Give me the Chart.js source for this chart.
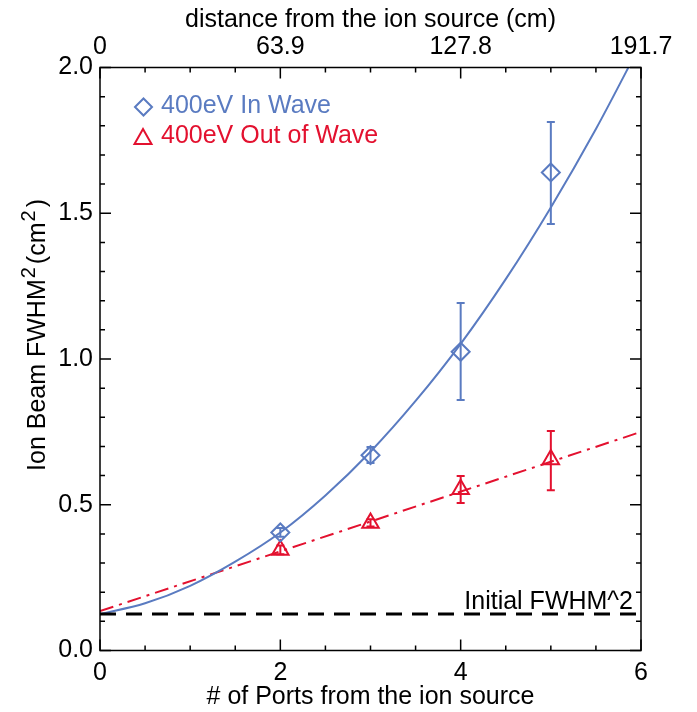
<!DOCTYPE html>
<html>
<head>
<meta charset="utf-8">
<script src="https://cdn.jsdelivr.net/npm/chart.js@4.4.1/dist/chart.umd.min.js"></script>
<style>
  html, body { margin: 0; padding: 0; background: #fff; }
</style>
</head>
<body>
<canvas id="fwhmCanvas" width="697" height="712"></canvas>
<script>
// ---- data ----
const portTicks = [0, 2, 4, 6];
const distanceLabels = ['0', '63.9', '127.8', '191.7'];

const ports = [2, 3, 4, 5];
const inWave = [0.405, 0.670, 1.025, 1.640];
const inWaveLow = [0.390, 0.643, 0.859, 1.463];
const inWaveHigh = [0.420, 0.698, 1.192, 1.813];

const outWave = [0.345, 0.437, 0.553, 0.655];
const outWaveLow = [0.330, 0.425, 0.506, 0.550];
const outWaveHigh = [0.360, 0.450, 0.599, 0.753];

// fitted curves
const fitX = [0, 0.5, 1, 1.5, 2, 2.5, 3, 3.5, 4, 4.5, 5, 5.5, 6];
const inWaveFit = [0.125, 0.162, 0.222, 0.305, 0.405, 0.532, 0.682, 0.856, 1.052, 1.274, 1.520, 1.789, 2.083];
const outFitX = [0, 6];
const outWaveFit = [0.135, 0.750];

const initialX = [0, 6];
const initialFwhm2 = [0.125, 0.125];

const BLUE = '#5a7bc1';
const RED = '#e3112f';
const FONT = '"Liberation Sans", Arial, Helvetica, sans-serif';

Chart.defaults.font.family = FONT;
Chart.defaults.color = '#000';

const pts = (xs, ys) => xs.map((x, i) => ({ x: x, y: ys[i] }));

// inward ticks, frame, error bars, legend, y title and baseline label
const decorations = {
  id: 'decorations',
  afterDatasetsDraw(chart) {
    const { ctx, chartArea: a, scales } = chart;
    const xs = scales.x, ys = scales.y;
    ctx.save();

    // error bars
    ctx.lineWidth = 2;
    const bars = [
      [BLUE, inWaveLow, inWaveHigh],
      [RED, outWaveLow, outWaveHigh]
    ];
    bars.forEach(([col, lo, hi]) => {
      ctx.strokeStyle = col;
      ports.forEach((p, i) => {
        const px = xs.getPixelForValue(p);
        const y1 = ys.getPixelForValue(lo[i]);
        const y2 = ys.getPixelForValue(hi[i]);
        ctx.beginPath();
        ctx.moveTo(px, y1); ctx.lineTo(px, y2);
        ctx.moveTo(px - 4, y1); ctx.lineTo(px + 4, y1);
        ctx.moveTo(px - 4, y2); ctx.lineTo(px + 4, y2);
        ctx.stroke();
      });
    });

    // ticks pointing inward
    ctx.strokeStyle = '#000';
    ctx.lineWidth = 1.5;
    ctx.beginPath();
    for (let k = 0; k <= 12; k++) {
      const px = xs.getPixelForValue(k * 0.5);
      const len = k % 4 === 0 ? 11 : 5;
      ctx.moveTo(px, a.bottom); ctx.lineTo(px, a.bottom - len);
      ctx.moveTo(px, a.top); ctx.lineTo(px, a.top + len);
    }
    for (let k = 0; k <= 20; k++) {
      const py = ys.getPixelForValue(k * 0.1);
      const len = k % 5 === 0 ? 11 : 5;
      ctx.moveTo(a.left, py); ctx.lineTo(a.left + len, py);
      ctx.moveTo(a.right, py); ctx.lineTo(a.right - len, py);
    }
    ctx.stroke();
    ctx.strokeRect(a.left, a.top, a.right - a.left, a.bottom - a.top);

    // baseline label
    ctx.font = '25px ' + FONT;
    ctx.fillStyle = '#000';
    ctx.textAlign = 'right';
    ctx.textBaseline = 'alphabetic';
    ctx.fillText('Initial FWHM^2', 633, ys.getPixelForValue(initialFwhm2[0]) - 5);

    // y axis title with raised 2s
    ctx.save();
    ctx.translate(45, 335);
    ctx.rotate(-Math.PI / 2);
    const parts = [['Ion Beam FWHM', false], ['2', true], ['(cm', false], ['2', true], [')', false]];
    const big = '25px ' + FONT, small = '20px ' + FONT;
    let total = 0;
    parts.forEach(([t, sup]) => { ctx.font = sup ? small : big; total += ctx.measureText(t).width + (sup ? 4 : 0); });
    let cx = -total / 2;
    ctx.textAlign = 'left';
    parts.forEach(([t, sup]) => {
      ctx.font = sup ? small : big;
      ctx.fillText(t, cx + (sup ? 1 : 0), sup ? -10 : 0);
      cx += ctx.measureText(t).width + (sup ? 4 : 0);
    });
    ctx.restore();

    // legend
    ctx.font = '25px ' + FONT;
    ctx.textAlign = 'left';
    ctx.textBaseline = 'middle';
    ctx.lineWidth = 2;
    ctx.strokeStyle = BLUE;
    ctx.fillStyle = BLUE;
    ctx.beginPath();
    ctx.moveTo(135, 107); ctx.lineTo(143.5, 98.5); ctx.lineTo(152, 107); ctx.lineTo(143.5, 115.5);
    ctx.closePath();
    ctx.stroke();
    ctx.fillText('400eV In Wave', 161, 106);

    ctx.strokeStyle = RED;
    ctx.fillStyle = RED;
    ctx.beginPath();
    ctx.moveTo(143, 129); ctx.lineTo(151.5, 144); ctx.lineTo(134.5, 144);
    ctx.closePath();
    ctx.stroke();
    ctx.fillText('400eV Out of Wave', 161, 136);

    ctx.restore();
  }
};

const setPortTicks = scale => { scale.ticks = portTicks.map(v => ({ value: v })); };

new Chart(document.getElementById('fwhmCanvas'), {
  type: 'scatter',
  data: {
    datasets: [
      {
        label: 'Initial FWHM^2',
        data: pts(initialX, initialFwhm2),
        showLine: true,
        borderColor: '#000',
        borderWidth: 3,
        borderDash: [16, 10],
        pointRadius: 0
      },
      {
        label: 'In Wave fit',
        data: pts(fitX, inWaveFit),
        showLine: true,
        borderColor: BLUE,
        borderWidth: 2,
        cubicInterpolationMode: 'monotone',
        pointRadius: 0
      },
      {
        label: 'Out of Wave fit',
        data: pts(outFitX, outWaveFit),
        showLine: true,
        borderColor: RED,
        borderWidth: 2,
        borderDash: [14, 6, 3, 6],
        pointRadius: 0
      },
      {
        label: '400eV In Wave',
        data: pts(ports, inWave),
        pointStyle: 'rectRot',
        pointRadius: 9,
        borderColor: BLUE,
        backgroundColor: 'rgba(0,0,0,0)',
        pointBorderWidth: 2
      },
      {
        label: '400eV Out of Wave',
        data: pts(ports, outWave),
        pointStyle: 'triangle',
        pointRadius: 9.5,
        borderColor: RED,
        backgroundColor: 'rgba(0,0,0,0)',
        pointBorderWidth: 2
      }
    ]
  },
  options: {
    responsive: false,
    animation: false,
    layout: { padding: { left: 0, right: 56, top: 0, bottom: 0 } },
    plugins: {
      legend: { display: false },
      tooltip: { enabled: false }
    },
    scales: {
      x: {
        type: 'linear',
        position: 'bottom',
        min: 0,
        max: 6,
        afterBuildTicks: setPortTicks,
        afterFit: s => { s.height = 61.5; },
        grid: { display: false },
        border: { display: false },
        ticks: { font: { size: 25 }, color: '#000', padding: 0, maxRotation: 0, autoSkip: false },
        title: { display: true, text: '# of Ports from the ion source', font: { size: 25 }, color: '#000', padding: { top: 0, bottom: 0 } }
      },
      x2: {
        type: 'linear',
        position: 'top',
        min: 0,
        max: 6,
        afterBuildTicks: setPortTicks,
        afterFit: s => { s.height = 67.5; },
        grid: { display: false },
        border: { display: false },
        ticks: {
          font: { size: 25 }, color: '#000', padding: -3, maxRotation: 0, autoSkip: false,
          callback: v => distanceLabels[portTicks.indexOf(v)]
        },
        title: { display: true, text: 'distance from the ion source (cm)', font: { size: 25 }, color: '#000', padding: { top: 5, bottom: 0 } }
      },
      y: {
        min: 0,
        max: 2,
        afterFit: s => { s.width = 100; },
        grid: { display: false },
        border: { display: false },
        ticks: { stepSize: 0.5, font: { size: 25 }, color: '#000', padding: -1, callback: v => v.toFixed(1) },
        title: { display: false }
      }
    }
  },
  plugins: [decorations]
});
</script>
</body>
</html>
